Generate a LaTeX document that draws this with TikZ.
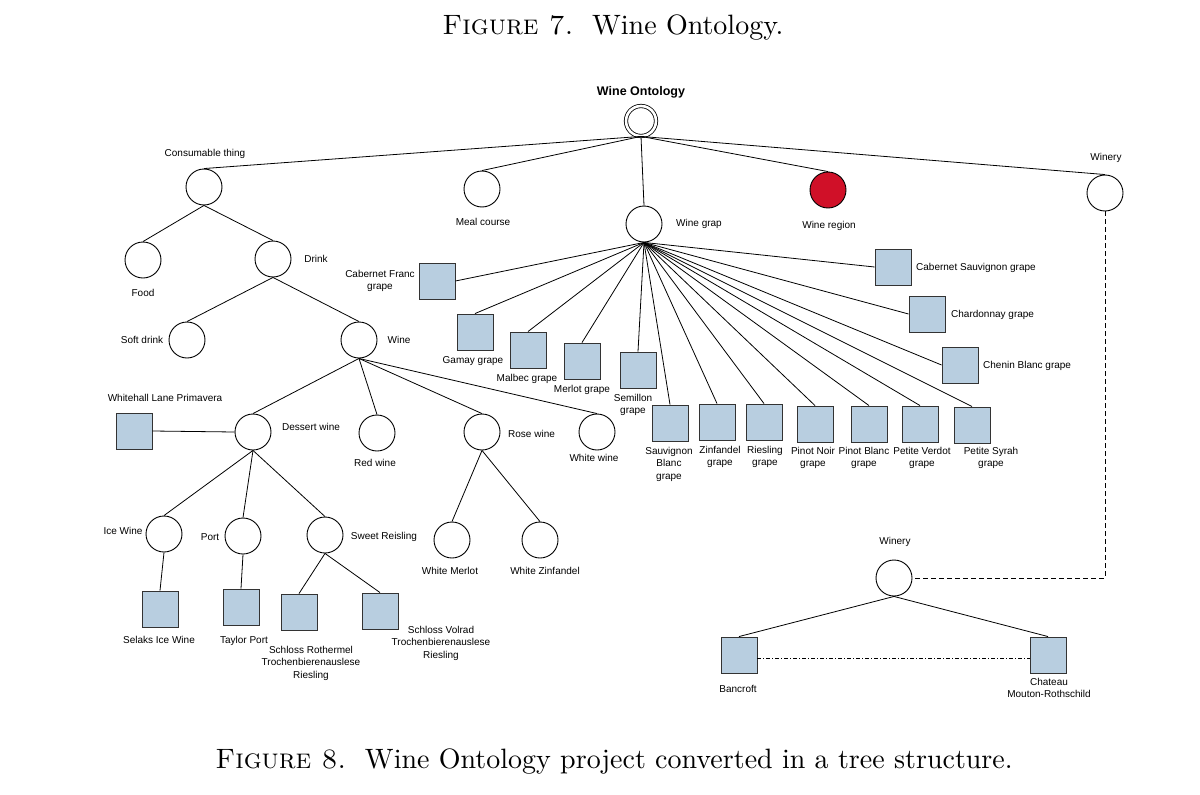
\documentclass[tikz,border=0pt]{standalone}
\usepackage{fontspec}
\newfontfamily\lab{Liberation Sans}
\newfontfamily\capfont{lmroman10-regular.otf}[SmallCapsFont=lmromancaps10-regular.otf]
\definecolor{sq}{RGB}{184,206,224}
\definecolor{winered}{RGB}{208,16,40}
\begin{document}
\begin{tikzpicture}[x=1pt,y=-1pt,
  cnode/.style={circle,draw,line width=0.9pt,minimum size=36pt,inner sep=0pt,fill=white},
  snode/.style={rectangle,draw=black!80,line width=0.9pt,minimum size=36pt,inner sep=0pt,fill=sq},
  txt/.style={font=\lab\fontsize{10}{12.5}\selectfont,inner sep=0pt,align=center},
  conn/.style={line width=0.8pt},
  captxt/.style={font=\capfont\fontsize{28}{32}\selectfont,inner sep=0pt}
]
\path[use as bounding box] (0,0) rectangle (1200,795);

% captions
\node[captxt] (cap7) at (613,28) {\textsc{Figure 7.}\ \ Wine Ontology.};
\node[captxt] (cap8) at (614,762) {\textsc{Figure 8.}\ \ Wine Ontology project converted in a tree structure.};

% root
\node[circle,draw,line width=0.8pt,minimum size=30pt,inner sep=0pt,double,double distance=2.6pt] (root) at (641,121) {};
\node[font=\lab\bfseries\fontsize{12.5}{15}\selectfont,inner sep=0pt] (t-root) at (641,92) {Wine Ontology};

% level 1
\node[cnode] (cons) at (204,187) {};
\node[cnode] (meal) at (482,189) {};
\node[cnode] (grap) at (644,224) {};
\node[cnode,fill=winered] (region) at (828,190) {};
\node[cnode] (winery) at (1105,193) {};
\node[txt] (t-cons) at (205,154) {Consumable thing};
\node[txt] (t-meal) at (483,222) {Meal course};
\node[txt] (t-grap) at (699,224) {Wine grap};
\node[txt] (t-region) at (829,226) {Wine region};
\node[txt] (t-winery) at (1106,158) {Winery};
\foreach \c in {cons,meal,grap,region,winery} \draw[conn] (root.south) -- (\c.north);

% consumable subtree
\node[cnode] (food) at (143,260) {};
\node[cnode] (drink) at (273,259) {};
\node[txt] (t-food) at (143,293) {Food};
\node[txt] (t-drink) at (316,259) {Drink};
\draw[conn] (cons.south) -- (food.north);
\draw[conn] (cons.south) -- (drink.north);

\node[cnode] (soft) at (187,340) {};
\node[cnode] (wine) at (359,340) {};
\node[txt] (t-soft) at (142,340) {Soft drink};
\node[txt] (t-wine) at (399,340) {Wine};
\draw[conn] (drink.south) -- (soft.north);
\draw[conn] (drink.south) -- (wine.north);

\node[cnode] (dessert) at (253,432) {};
\node[cnode] (red) at (377,433) {};
\node[cnode] (rose) at (482,432) {};
\node[cnode] (white) at (597,432) {};
\node[snode] (whitehall) at (134,431) {};
\node[txt,anchor=west] (t-dessert) at (282,427) {Dessert wine};
\node[txt] (t-red) at (375,463) {Red wine};
\node[txt,anchor=west] (t-rose) at (508,434) {Rose wine};
\node[txt] (t-white) at (594,458) {White wine};
\node[txt] (t-whitehall) at (165,398) {Whitehall Lane Primavera};
\foreach \c in {dessert,red,rose,white} \draw[conn] (wine.south) -- (\c.north);
\draw[conn] (dessert.west) -- (whitehall.east);

\node[cnode] (ice) at (164,534) {};
\node[cnode] (port) at (243,536) {};
\node[cnode] (sweet) at (325,535) {};
\node[txt] (t-ice) at (123,531) {Ice Wine};
\node[txt] (t-port) at (210,537) {Port};
\node[txt] (t-sweet) at (384,537) {Sweet Reisling};
\foreach \c in {ice,port,sweet} \draw[conn] (dessert.south) -- (\c.north);

\node[cnode] (wmerlot) at (452,540) {};
\node[cnode] (wzin) at (540,540) {};
\node[txt] (t-wmerlot) at (450,571) {White Merlot};
\node[txt] (t-wzin) at (545,571) {White Zinfandel};
\draw[conn] (rose.south) -- (wmerlot.north);
\draw[conn] (rose.south) -- (wzin.north);

\node[snode] (selaks) at (160,609) {};
\node[snode] (taylor) at (241,607) {};
\node[snode] (schr) at (299,612) {};
\node[snode] (schv) at (380,611) {};
\node[txt] (t-selaks) at (159,640) {Selaks Ice Wine};
\node[txt] (t-taylor) at (244,641) {Taylor Port};
\node[txt] (t-schr) at (311,663) {Schloss Rothermel\\Trochenbierenauslese\\Riesling};
\node[txt] (t-schv) at (441,643) {Schloss Volrad\\Trochenbierenauslese\\Riesling};
\draw[conn] (ice.south) -- (selaks.north);
\draw[conn] (port.south) -- (taylor.north);
\draw[conn] (sweet.south) -- (schr.north);
\draw[conn] (sweet.south) -- (schv.north);

% grapes
\node[snode] (cabf) at (437,281) {};
\node[snode] (gamay) at (475,332) {};
\node[snode] (malbec) at (528,350) {};
\node[snode] (merlot) at (582,361) {};
\node[snode] (semillon) at (638,370) {};
\node[snode] (sauv) at (670,423) {};
\node[snode] (zin) at (717,422) {};
\node[snode] (ries) at (764,422) {};
\node[snode] (pnoir) at (815,424) {};
\node[snode] (pblanc) at (869,424) {};
\node[snode] (pverdot) at (920,424) {};
\node[snode] (psyrah) at (972,425) {};
\node[snode] (cabs) at (893,267) {};
\node[snode] (chard) at (927,314) {};
\node[snode] (chenin) at (960,365) {};

\node[txt] (t-cabf) at (380,281) {Cabernet Franc\\grape};
\node[txt] (t-gamay) at (473,361) {Gamay grape};
\node[txt] (t-malbec) at (527,379) {Malbec grape};
\node[txt] (t-merlot) at (582,390) {Merlot grape};
\node[txt] (t-semillon) at (633,405) {Semillon\\grape};
\node[txt] (t-sauv) at (669,464) {Sauvignon\\Blanc\\grape};
\node[txt] (t-zin) at (720,457) {Zinfandel\\grape};
\node[txt] (t-ries) at (765,457) {Riesling\\grape};
\node[txt] (t-pnoir) at (813,458) {Pinot Noir\\grape};
\node[txt] (t-pblanc) at (864,458) {Pinot Blanc\\grape};
\node[txt] (t-pverdot) at (922,458) {Petite Verdot\\grape};
\node[txt] (t-psyrah) at (991,458) {Petite Syrah\\grape};
\node[txt,anchor=west] (t-cabs) at (916,268) {Cabernet Sauvignon grape};
\node[txt,anchor=west] (t-chard) at (951,315) {Chardonnay grape};
\node[txt,anchor=west] (t-chenin) at (983,366) {Chenin Blanc grape};

\draw[conn] (grap.south) -- (cabf.east);
\foreach \c in {gamay,malbec,merlot,semillon,sauv,zin,ries,pnoir,pblanc,pverdot,psyrah} \draw[conn] (grap.south) -- (\c.north);
\foreach \c in {cabs,chard,chenin} \draw[conn] (grap.south) -- (\c.west);

% winery subtree
\node[cnode] (winery2) at (894,578) {};
\node[txt] (t-winery2) at (895,542) {Winery};
\node[snode] (bancroft) at (739,655) {};
\node[snode] (chateau) at (1048,655) {};
\node[txt] (t-bancroft) at (738,689) {Bancroft};
\node[txt] (t-chateau) at (1049,688) {Chateau\\Mouton-Rothschild};
\draw[conn] (winery2.south) -- (bancroft.north);
\draw[conn] (winery2.south) -- (chateau.north);
\draw[line width=0.8pt,dash pattern=on 5pt off 3pt] (winery.south) |- (winery2.east);
\draw[line width=0.6pt,dash pattern=on 4pt off 2pt on 1pt off 2pt] ([yshift=-3pt]bancroft.east) -- ([yshift=-3pt]chateau.west);
\end{tikzpicture}
\end{document}
